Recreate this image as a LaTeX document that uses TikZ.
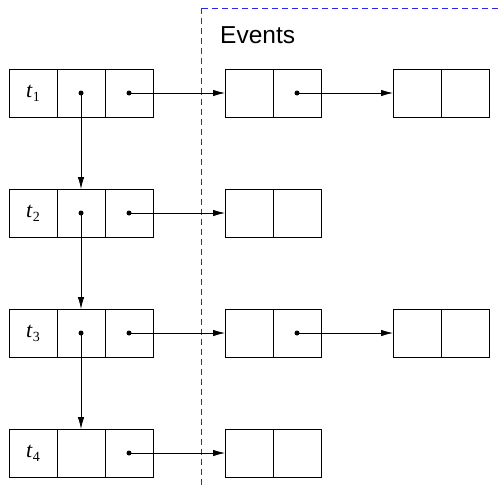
\documentclass[tikz,border=0pt]{standalone}
\usepackage{fontspec}
\setmainfont{Liberation Serif}
\newfontfamily\evfont{Liberation Sans}
\usetikzlibrary{arrows.meta}
\definecolor{regionblue}{RGB}{40,40,240}
\tikzset{
  cell/.style={draw, line width=0.8pt, minimum width=48pt, minimum height=48pt,
    inner sep=0pt, outer sep=0pt},
  link/.style={-{Latex[length=12pt,width=6.5pt]}, line width=0.8pt},
  ptr/.style={fill, circle, inner sep=0pt, minimum size=5pt},
  region/.style={draw=regionblue, dash pattern=on 6pt off 4pt, line width=1.4pt},
}
\newcommand{\tlab}[1]{\fontsize{22}{22}\selectfont\itshape t\kern0.5pt\raisebox{-4pt}{\fontsize{14}{14}\selectfont\upshape #1}}
\begin{document}
\begin{tikzpicture}[x=1pt,y=-1pt]
  \useasboundingbox (0,0) rectangle (498,487);

  % events region: left and top borders
  \coordinate (rc) at (201.5,8.5);
  \coordinate (rb) at (201.5,487);
  \coordinate (rr) at (498,8.5);
  \draw[region] (rc) -- (rb);
  \draw[region] (rc) -- (rr);
  \node[anchor=base west, font=\evfont\fontsize{24.5}{24.5}\selectfont, inner sep=0pt]
    (evlabel) at (220,44) {Events};

  % time slots: label cell, next-slot pointer, event pointer
  \foreach \r/\y in {1/93,2/213,3/333,4/453} {
    \node[cell] (t\r a) at (33,\y) {\tlab{\r}};
    \node[cell] (t\r b) at (81,\y) {};
    \node[cell] (t\r c) at (129,\y) {};
    \node[ptr] at (t\r c.center) {};
  }
  \foreach \r in {1,2,3} \node[ptr] at (t\r b.center) {};

  % event records
  \foreach \r/\y in {1/93,2/213,3/333,4/453} {
    \node[cell] (e\r a) at (249,\y) {};
    \node[cell] (e\r b) at (297,\y) {};
  }
  \foreach \r/\y in {1/93,3/333} {
    \node[cell] (f\r a) at (417,\y) {};
    \node[cell] (f\r b) at (465,\y) {};
    \node[ptr] at (e\r b.center) {};
  }

  % slot chain
  \draw[link] (t1b.center) -- (t2b.north);
  \draw[link] (t2b.center) -- (t3b.north);
  \draw[link] (t3b.center) -- (t4b.north);

  % slot to event lists
  \foreach \r in {1,2,3,4} \draw[link] (t\r c.center) -- (e\r a.west);
  \draw[link] (e1b.center) -- (f1a.west);
  \draw[link] (e3b.center) -- (f3a.west);
\end{tikzpicture}
\end{document}
